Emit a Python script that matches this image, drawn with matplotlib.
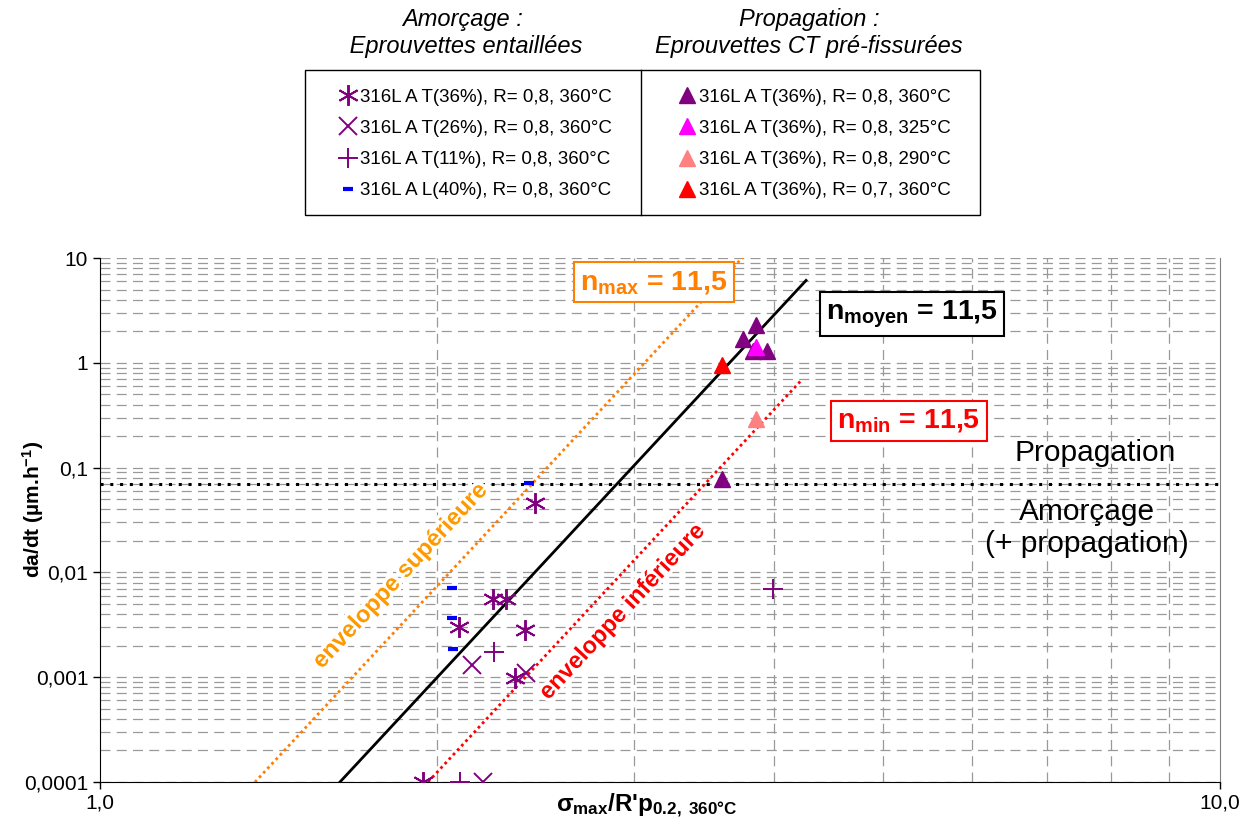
import numpy as np
import matplotlib.pyplot as plt
import matplotlib.patheffects as pe
from matplotlib.patches import Rectangle
from matplotlib.lines import Line2D
from matplotlib.ticker import FixedLocator, LogLocator, NullFormatter

plt.rcParams['font.family'] = ['Liberation Sans', 'DejaVu Sans']
plt.rcParams['mathtext.fontset'] = 'custom'
plt.rcParams['mathtext.rm'] = 'Liberation Sans'
plt.rcParams['mathtext.bf'] = 'Liberation Sans:bold'
plt.rcParams['mathtext.it'] = 'Liberation Sans:italic'

# Amorçage : éprouvettes entaillées
t36_x = [2.445, 2.092, 2.243, 2.304, 2.396, 2.347, 1.943]
t36_y = [0.0459, 0.00301, 0.00557, 0.00557, 0.00282, 0.00098, 0.0001]
t26_x = [2.148, 2.401, 2.198]
t26_y = [0.00131, 0.00110, 0.0001]
t11_x = [2.248, 2.096, 3.99]
t11_y = [0.00174, 0.0001, 0.00695]
l40_x = [2.416, 2.062, 2.062, 2.066]
l40_y = [0.0713, 0.0071, 0.00367, 0.00186]

# Propagation : éprouvettes CT pré-fissurées
p360_x = [3.853, 3.751, 3.94, 3.83, 3.593]
p360_y = [2.29, 1.69, 1.30, 1.30, 0.0778]
p325_x = [3.853]
p325_y = [1.415]
p290_x = [3.853]
p290_y = [0.291]
r07_x = [3.593]
r07_y = [0.953]

# droites da/dt = C * x^n
n_exp = 11.5
logc_moy, xr_moy = -6.464, (1.638, 4.27)
logc_max, xr_max = -5.592, (1.375, 3.80)
logc_min, xr_min = -7.368, (1.963, 4.22)
seuil = 0.07

labels_left = ['316L A T(36%), R= 0,8, 360°C', '316L A T(26%), R= 0,8, 360°C',
               '316L A T(11%), R= 0,8, 360°C', '316L A L(40%), R= 0,8, 360°C']
labels_right = ['316L A T(36%), R= 0,8, 360°C', '316L A T(36%), R= 0,8, 325°C',
                '316L A T(36%), R= 0,8, 290°C', '316L A T(36%), R= 0,7, 360°C']

W, H = 1252, 825
fig = plt.figure(figsize=(W / 100, H / 100), dpi=100)
ax = fig.add_axes([100 / W, 1 - 782 / H, 1120 / W, 524 / H])
ax.set_xscale('log')
ax.set_yscale('log')
ax.set_xlim(1.0, 10.0)
ax.set_ylim(0.0001, 10)

# grille en tirets
ax.xaxis.set_minor_locator(LogLocator(base=10, subs=np.arange(2, 10)))
ax.yaxis.set_minor_locator(LogLocator(base=10, subs=np.arange(2, 10), numticks=20))
ax.xaxis.set_minor_formatter(NullFormatter())
ax.yaxis.set_minor_formatter(NullFormatter())
ax.grid(True, which='both', axis='y', color='#999999', linestyle=(0, (8, 5)), linewidth=0.9)
ax.grid(True, which='minor', axis='x', color='#999999', linestyle=(0, (8, 5)), linewidth=0.9)
ax.tick_params(which='minor', length=0)
ax.tick_params(which='major', length=5, width=1, labelsize=15, direction='out')
ax.xaxis.set_major_locator(FixedLocator([1.0, 10.0]))
ax.set_xticklabels(['1,0', '10,0'])
ax.yaxis.set_major_locator(FixedLocator([0.0001, 0.001, 0.01, 0.1, 1, 10]))
ax.set_yticklabels(['0,0001', '0,001', '0,01', '0,1', '1', '10'])
ax.spines['top'].set_visible(False)
ax.spines['right'].set_color('#808080')

ax.axhline(seuil, color='black', linestyle=(0, (1, 2.2)), linewidth=2.2, zorder=2)

def droite(logc, xr):
    x = np.array(xr)
    return x, 10 ** (logc + n_exp * np.log10(x))

x, y = droite(logc_moy, xr_moy)
ax.plot(x, y, color='black', linewidth=2, zorder=3)
x, y = droite(logc_max, xr_max)
ax.plot(x, y, color='#FF7F00', linestyle=(0, (1, 1.2)), linewidth=2, zorder=3)
x, y = droite(logc_min, xr_min)
ax.plot(x, y, color='#FF0000', linestyle=(0, (1, 1.2)), linewidth=2, zorder=3)

purple = '#800080'
h1, = ax.plot(t36_x, t36_y, linestyle='none', marker=(6, 2, 0), markersize=15,
              markeredgewidth=1.4, color=purple, zorder=5)
h2, = ax.plot(t26_x, t26_y, linestyle='none', marker='x', markersize=13,
              markeredgewidth=1.4, color=purple, zorder=5)
h3, = ax.plot(t11_x, t11_y, linestyle='none', marker='+', markersize=14,
              markeredgewidth=1.4, color=purple, zorder=5)
h4, = ax.plot(l40_x, l40_y, linestyle='none', marker='_', markersize=7,
              markeredgewidth=3, color='#0000FF', zorder=5)
h5, = ax.plot(p360_x, p360_y, linestyle='none', marker='^', markersize=12, color=purple, zorder=5)
h6, = ax.plot(p325_x, p325_y, linestyle='none', marker='^', markersize=12, color='#FF00FF', zorder=6)
h7, = ax.plot(p290_x, p290_y, linestyle='none', marker='^', markersize=12, color='#FF8080', zorder=5)
h8, = ax.plot(r07_x, r07_y, linestyle='none', marker='^', markersize=12, color='#FF0000', zorder=5)

ax.set_xlabel(r"σ$_{\mathbf{max}}$/R'p$_{\mathbf{0.2,\ 360°C}}$", fontsize=17.5,
              fontweight='bold', va='center')
ax.xaxis.set_label_coords((647 - 100) / 1120, (782 - 806) / 524)
ax.set_ylabel(r'da/dt (µm.h$^{\mathbf{-1}}$)', fontsize=15, fontweight='bold')
ax.yaxis.set_label_coords((46 - 100) / 1120, (782 - 509) / 524)

halo = [pe.withStroke(linewidth=5, foreground='white')]
ax.text(400 / W, 1 - 576 / H, 'enveloppe supérieure', transform=fig.transFigure,
        rotation=47, ha='center', va='center', fontsize=17, fontweight='bold',
        color='#FF9900', path_effects=halo, zorder=7)
ax.text(622 / W, 1 - 612 / H, 'enveloppe inférieure', transform=fig.transFigure,
        rotation=47, ha='center', va='center', fontsize=17, fontweight='bold',
        color='#FF0000', path_effects=halo, zorder=7)

ax.text(1095 / W, 1 - 453 / H, 'Propagation', transform=fig.transFigure,
        ha='center', va='center', fontsize=21.5)
ax.text(1087 / W, 1 - 528 / H, 'Amorçage\n(+ propagation)', transform=fig.transFigure,
        ha='center', va='center', fontsize=21.5, linespacing=1.15)

def boite(cx, cy, txt, col):
    fig.text(cx / W, 1 - cy / H, txt, ha='center', va='center', fontsize=20.5,
             fontweight='bold', color=col,
             bbox=dict(boxstyle='square,pad=0.22', facecolor='white', edgecolor=col, linewidth=1.5))

boite(654, 282, r'n$_{\mathbf{max}}$ = 11,5', '#FF7F00')
boite(912, 314, r'n$_{\mathbf{moyen}}$ = 11,5', 'black')
boite(909, 421, r'n$_{\mathbf{min}}$ = 11,5', '#FF0000')

# légende en tableau
fig.patches.append(Rectangle((305 / W, 1 - 215 / H), 675 / W, 145 / H, transform=fig.transFigure,
                             fill=False, edgecolor='black', linewidth=1))
fig.lines.append(Line2D([641 / W, 641 / W], [1 - 215 / H, 1 - 70 / H], transform=fig.transFigure,
                        color='black', linewidth=1))
fig.text(463 / W, 1 - 33 / H, 'Amorçage :\n Eprouvettes entaillées', ha='center', va='center',
         fontsize=17, style='italic', linespacing=1.2)
fig.text(809 / W, 1 - 33 / H, 'Propagation :\nEprouvettes CT pré-fissurées', ha='center',
         va='center', fontsize=17, style='italic', linespacing=1.2)

kw = dict(loc='center', frameon=False, fontsize=13.5, labelspacing=0.75,
          handlelength=0.9, handletextpad=0.2, borderpad=0)
fig.legend([h1, h2, h3, h4], labels_left, bbox_to_anchor=(476 / W, 1 - 144 / H), **kw)
fig.legend([h5, h6, h7, h8], labels_right, bbox_to_anchor=(815 / W, 1 - 144 / H), **kw)

fig.savefig('out.png', dpi=100)
